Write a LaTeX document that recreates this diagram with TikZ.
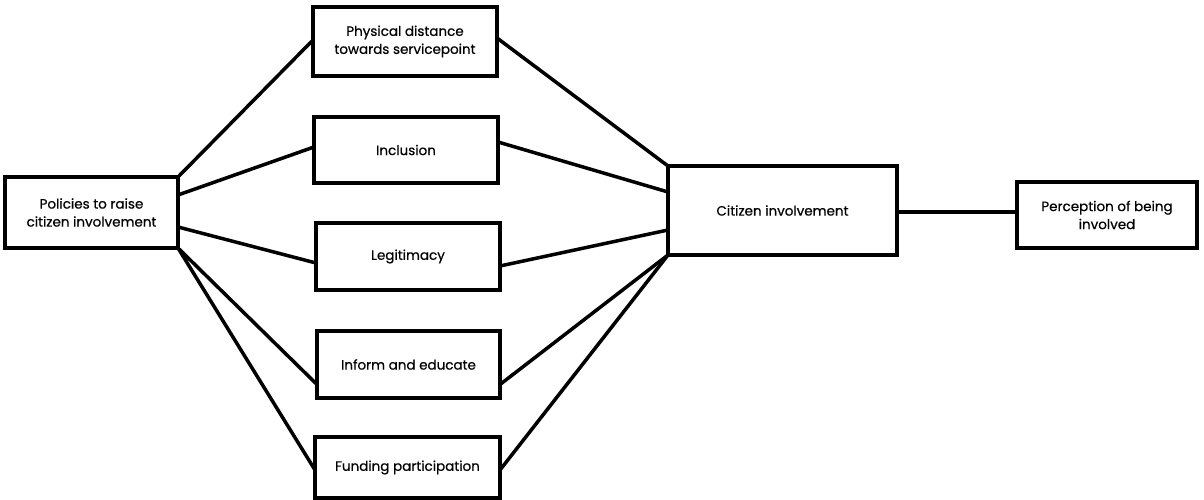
\documentclass[tikz,border=0pt]{standalone}
\usepackage{fontspec}
\setmainfont{Poppins}[FakeBold=0.6]
\usepackage{tikz}
\usetikzlibrary{positioning}
\tikzset{
	factor/.style={rectangle, draw=black, line width=3.5pt, align=center, outer sep=0pt, inner sep=2pt, font=\fontsize{13.5}{18}\selectfont},
	link/.style={line width=3.5pt, line cap=round},
}

\begin{document}
\begin{tikzpicture}[x=1pt, y=-1pt]
	\useasboundingbox (0,0) rectangle (1204,500);
	% left and right ends
	\node[factor, minimum width=173pt, minimum height=71pt] (policies) at (91.5,212.5) {Policies to raise\\citizen involvement};
	\node[factor, minimum width=229pt, minimum height=89pt] (citizen) at (782.5,210.5) {Citizen involvement};
	\node[factor, minimum width=180pt, minimum height=66pt] (perception) at (1107,215) {Perception of being\\involved};
	% middle column
	\node[factor, minimum width=184pt, minimum height=69pt] (distance) at (405,41.5) {Physical distance\\towards servicepoint};
	\node[factor, minimum width=184pt, minimum height=66pt] (inclusion) at (406,150) {Inclusion};
	\node[factor, minimum width=184pt, minimum height=67pt] (legitimacy) at (408,256.5) {Legitimacy};
	\node[factor, minimum width=183pt, minimum height=67pt] (inform) at (408.5,364.5) {Inform and educate};
	\node[factor, minimum width=185pt, minimum height=61pt] (funding) at (407.5,467.5) {Funding participation};

	\draw[link] (policies.north east) -- ([yshift=1.5pt]distance.west);
	\draw[link] ([yshift=17.5pt]policies.east) -- ([yshift=3pt]inclusion.west);
	\draw[link] ([yshift=-14.5pt]policies.east) -- ([yshift=-6.5pt]legitimacy.west);
	\draw[link] (policies.south east) -- ([yshift=-20pt]inform.west);
	\draw[link] (policies.south east) -- ([yshift=-2.5pt]funding.west);

	\draw[link] ([yshift=3.5pt]distance.east) -- (citizen.north west);
	\draw[link] ([yshift=8pt]inclusion.east) -- ([yshift=18.5pt]citizen.west);
	\draw[link] ([yshift=-9.5pt]legitimacy.east) -- ([yshift=-19.5pt]citizen.west);
	\draw[link] ([yshift=-20pt]inform.east) -- (citizen.south west);
	\draw[link] ([yshift=-2.5pt]funding.east) -- (citizen.south west);

	\draw[link] ([yshift=-1.5pt]citizen.east) -- ([yshift=3pt]perception.west);
\end{tikzpicture}
\end{document}
